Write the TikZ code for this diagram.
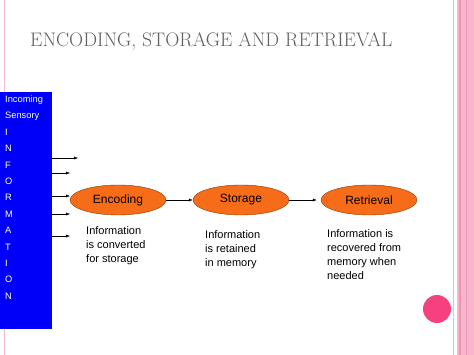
\documentclass[tikz,border=0pt]{standalone}
\usepackage{fontspec}
\setsansfont{Liberation Sans}
\usetikzlibrary{shapes.geometric,arrows.meta,positioning}
\definecolor{slidepink}{RGB}{248,182,206}
\definecolor{darkpink}{RGB}{236,150,182}
\definecolor{dotpink}{RGB}{246,64,128}
\definecolor{boxblue}{RGB}{0,0,250}
\definecolor{stageorange}{RGB}{246,108,24}
\definecolor{titlegray}{RGB}{96,96,96}
\tikzset{
  >={Latex[length=4pt,width=3pt]},
  stage/.style={draw=orange!50!black,ellipse,fill=stageorange,minimum width=96pt,minimum height=30pt,font=\sffamily\fontsize{12}{14}\selectfont,inner sep=1pt},
  note/.style={anchor=north west,align=left,font=\sffamily\fontsize{11}{14}\selectfont,inner sep=0pt},
  infobox/.style={draw=none,fill=boxblue,minimum width=52pt,minimum height=237pt,anchor=north west,inner sep=0pt}
}
\begin{document}
\begin{tikzpicture}[x=1pt,y=-1pt]
\useasboundingbox (0,0) rectangle (474,355);
\fill[white] (0,0) rectangle (474,355);
% slide border
\draw[slidepink,line width=1.2pt] (4.5,0) -- (4.5,355);
\draw[slidepink,line width=1pt] (453.5,0) -- (453.5,355);
\fill[slidepink] (457,0) rectangle (474,355);
\fill[darkpink] (459,0) rectangle (461,355);
\fill[darkpink] (466,0) rectangle (467,355);
\fill[dotpink] (437,309) circle (14);
% title
\node[anchor=west,text=titlegray,font=\fontsize{19.6}{22}\selectfont,inner sep=0pt](title) at (30,41){ENCODING, STORAGE AND RETRIEVAL};
% incoming information column
\node[infobox](info) at (0,92){};
\node[anchor=north west,align=left,text=white,font=\sffamily\fontsize{9.3}{16.4}\selectfont,inner sep=0pt](letters) at (5,95.5){Incoming\\Sensory\\I\\N\\F\\O\\R\\M\\A\\T\\I\\O\\N};
\coordinate (in1) at (78,158);
\coordinate (in2) at (70,173);
\coordinate (in3) at (70,196);
\coordinate (in4) at (70,214);
\coordinate (in5) at (70,236);
\draw[->](info.east |- in1)--(in1);
\draw[->](info.east |- in2)--(in2);
\draw[->](info.east |- in3)--(in3);
\draw[->](info.east |- in4)--(in4);
\draw[->](info.east |- in5)--(in5);
% stages
\node[stage](enc) at (118,200){Encoding};
\node[stage](sto) at (241,200){Storage};
\node[stage](ret) at (369,200){Retrieval};
\draw[->](enc)--(sto);
\draw[->](sto.east)--([xshift=-4pt]ret.west);
% descriptions
\node[note](encnote) at (86,226){Information\\is converted\\for storage};
\node[note](stonote) at (205,230){Information\\is retained\\in memory};
\node[note](retnote) at (327,229){Information is\\recovered from\\memory when\\needed};
\end{tikzpicture}
\end{document}
